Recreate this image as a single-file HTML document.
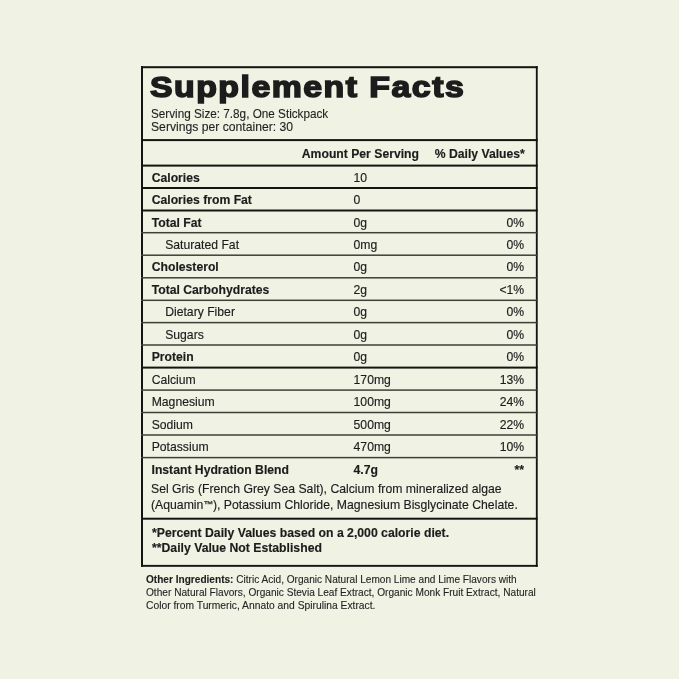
<!DOCTYPE html><html><head><meta charset="utf-8"><title>Supplement Facts</title><style>
*{margin:0;padding:0;box-sizing:border-box}
html,body{width:679px;height:679px;background:#f0f2e4;overflow:hidden}
body{position:relative;font-family:"Liberation Sans", Arial, sans-serif;color:#1c1c1c}
.t{position:absolute;white-space:nowrap;line-height:1;transform-origin:0 0;-webkit-text-stroke:0.15px #1c1c1c}
.b{font-weight:bold}
b{font-weight:bold}
svg{position:absolute;left:0;top:0}
.title{-webkit-text-stroke:1.6px #1c1c1c}
.cal{-webkit-text-stroke:0.12px #2a2a2a;color:#1e1e1e}

</style></head><body>
<svg width="679" height="679" viewBox="0 0 679 679"><rect x="141" y="66.20" width="396.70" height="2.00" fill="#141510"/><rect x="141" y="564.90" width="396.70" height="1.90" fill="#141510"/><rect x="141" y="66.20" width="2.00" height="500.60" fill="#141510"/><rect x="535.85" y="66.20" width="1.85" height="500.60" fill="#141510"/><rect x="141" y="139.10" width="396.70" height="2.00" fill="#141510"/><rect x="141" y="164.60" width="396.70" height="2.00" fill="#141510"/><rect x="141" y="187.00" width="396.70" height="2.00" fill="#141510"/><rect x="141" y="209.50" width="396.70" height="2.00" fill="#141510"/><rect x="141" y="231.95" width="396.70" height="1.50" fill="#3e4036"/><rect x="141" y="254.45" width="396.70" height="1.50" fill="#3e4036"/><rect x="141" y="277.05" width="396.70" height="1.50" fill="#3e4036"/><rect x="141" y="299.55" width="396.70" height="1.50" fill="#3e4036"/><rect x="141" y="321.85" width="396.70" height="1.50" fill="#3e4036"/><rect x="141" y="344.25" width="396.70" height="1.50" fill="#3e4036"/><rect x="141" y="366.60" width="396.70" height="2.00" fill="#141510"/><rect x="141" y="389.35" width="396.70" height="1.50" fill="#3e4036"/><rect x="141" y="411.75" width="396.70" height="1.50" fill="#3e4036"/><rect x="141" y="434.25" width="396.70" height="1.50" fill="#3e4036"/><rect x="141" y="456.85" width="396.70" height="1.50" fill="#3e4036"/><rect x="141" y="517.70" width="396.70" height="2.00" fill="#141510"/></svg>
<div class="t b title" style="left:150.20px;top:72.34px;font-size:30.2px;transform:scaleX(1.1200);letter-spacing:1.339px">Supplement Facts</div>
<div class="t cal" style="left:150.50px;top:107.90px;font-size:12.4px;transform:scaleX(0.9461)">Serving Size: 7.8g, One Stickpack</div>
<div class="t cal" style="left:150.50px;top:120.70px;font-size:12.4px;transform:scaleX(0.9824)">Servings per container: 30</div>
<div class="t b" style="left:301.80px;top:148.37px;font-size:12.2px">Amount Per Serving</div>
<div class="t b" style="left:434.70px;top:148.37px;font-size:12.2px">% Daily Values*</div>
<div class="t b" style="left:151.70px;top:171.67px;font-size:12.2px">Calories</div>
<div class="t" style="left:353.60px;top:171.67px;font-size:12.2px">10</div>
<div class="t b" style="left:151.70px;top:194.07px;font-size:12.2px">Calories from Fat</div>
<div class="t" style="left:353.60px;top:194.07px;font-size:12.2px">0</div>
<div class="t b" style="left:151.70px;top:216.57px;font-size:12.2px">Total Fat</div>
<div class="t" style="left:353.60px;top:216.57px;font-size:12.2px">0g</div>
<div class="t" style="left:506.55px;top:216.57px;font-size:12.2px">0%</div>
<div class="t" style="left:165.20px;top:238.77px;font-size:12.2px">Saturated Fat</div>
<div class="t" style="left:353.60px;top:238.77px;font-size:12.2px">0mg</div>
<div class="t" style="left:506.55px;top:238.77px;font-size:12.2px">0%</div>
<div class="t b" style="left:151.70px;top:261.27px;font-size:12.2px">Cholesterol</div>
<div class="t" style="left:353.60px;top:261.27px;font-size:12.2px">0g</div>
<div class="t" style="left:506.55px;top:261.27px;font-size:12.2px">0%</div>
<div class="t b" style="left:151.70px;top:283.87px;font-size:12.2px">Total Carbohydrates</div>
<div class="t" style="left:353.60px;top:283.87px;font-size:12.2px">2g</div>
<div class="t" style="left:499.45px;top:283.87px;font-size:12.2px"><1%</div>
<div class="t" style="left:165.20px;top:306.37px;font-size:12.2px">Dietary Fiber</div>
<div class="t" style="left:353.60px;top:306.37px;font-size:12.2px">0g</div>
<div class="t" style="left:506.55px;top:306.37px;font-size:12.2px">0%</div>
<div class="t" style="left:165.20px;top:328.67px;font-size:12.2px">Sugars</div>
<div class="t" style="left:353.60px;top:328.67px;font-size:12.2px">0g</div>
<div class="t" style="left:506.55px;top:328.67px;font-size:12.2px">0%</div>
<div class="t b" style="left:151.70px;top:351.07px;font-size:12.2px">Protein</div>
<div class="t" style="left:353.60px;top:351.07px;font-size:12.2px">0g</div>
<div class="t" style="left:506.55px;top:351.07px;font-size:12.2px">0%</div>
<div class="t" style="left:151.70px;top:373.67px;font-size:12.2px">Calcium</div>
<div class="t" style="left:353.60px;top:373.67px;font-size:12.2px">170mg</div>
<div class="t" style="left:499.80px;top:373.67px;font-size:12.2px">13%</div>
<div class="t" style="left:151.70px;top:396.17px;font-size:12.2px">Magnesium</div>
<div class="t" style="left:353.60px;top:396.17px;font-size:12.2px">100mg</div>
<div class="t" style="left:499.80px;top:396.17px;font-size:12.2px">24%</div>
<div class="t" style="left:151.70px;top:418.57px;font-size:12.2px">Sodium</div>
<div class="t" style="left:353.60px;top:418.57px;font-size:12.2px">500mg</div>
<div class="t" style="left:499.80px;top:418.57px;font-size:12.2px">22%</div>
<div class="t" style="left:151.70px;top:441.07px;font-size:12.2px">Potassium</div>
<div class="t" style="left:353.60px;top:441.07px;font-size:12.2px">470mg</div>
<div class="t" style="left:499.80px;top:441.07px;font-size:12.2px">10%</div>
<div class="t b" style="left:151.50px;top:463.77px;font-size:12.2px">Instant Hydration Blend</div>
<div class="t b" style="left:353.50px;top:463.77px;font-size:12.2px">4.7g</div>
<div class="t b" style="left:514.60px;top:463.77px;font-size:12.2px">**</div>
<div class="t" style="left:151.00px;top:482.97px;font-size:12.2px;transform:scaleX(1.0033)">Sel Gris (French Grey Sea Salt), Calcium from mineralized algae</div>
<div class="t b" style="left:151.60px;top:526.97px;font-size:12.2px;transform:scaleX(1.0035)">*Percent Daily Values based on a 2,000 calorie diet.</div>
<div class="t b" style="left:151.60px;top:542.37px;font-size:12.2px;transform:scaleX(1.0035)">**Daily Value Not Established</div>
<div class="t" style="left:151.00px;top:498.77px;font-size:12.2px;transform:scaleX(1.0046)">(Aquamin<b style="font-size:9.5px;position:relative;top:-1px">™</b>), Potassium Chloride, Magnesium Bisglycinate Chelate.</div>
<div class="t cal" style="left:145.60px;top:573.52px;font-size:11.2px;transform:scaleX(0.9020)"><b>Other Ingredients:</b> Citric Acid, Organic Natural Lemon Lime and Lime Flavors with</div>
<div class="t cal" style="left:145.60px;top:587.12px;font-size:11.2px;transform:scaleX(0.9048)">Other Natural Flavors, Organic Stevia Leaf Extract, Organic Monk Fruit Extract, Natural</div>
<div class="t cal" style="left:145.60px;top:600.22px;font-size:11.2px;transform:scaleX(0.9203)">Color from Turmeric, Annato and Spirulina Extract.</div>
</body></html>
